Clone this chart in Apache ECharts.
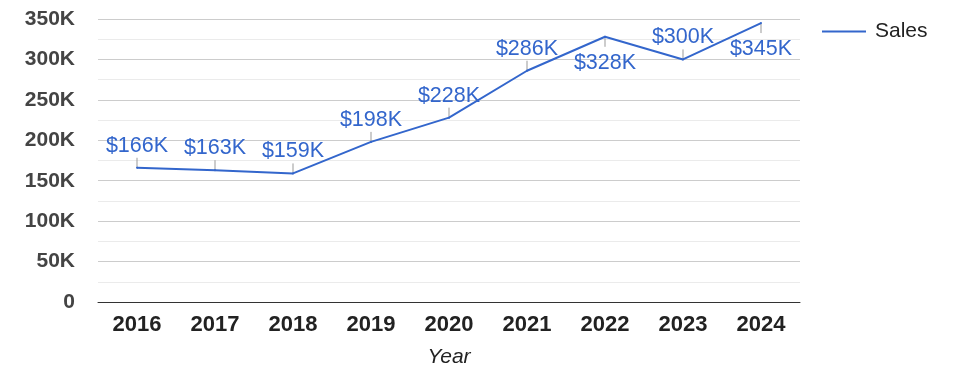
<!DOCTYPE html>
<html>
<head>
<meta charset="utf-8">
<script src="https://cdn.jsdelivr.net/npm/echarts@6/dist/echarts.min.js"></script>
<style>html,body{margin:0;padding:0;background:#fff}#c{width:975px;height:378px}</style>
</head>
<body>
<div id="c"></div>
<script>
const years = ['2016','2017','2018','2019','2020','2021','2022','2023','2024'];
const sales = [166000,163000,159000,198000,228000,286000,328000,300000,345000];
const belowYears = ['2022','2024'];

const fmtK = v => (v === 0 ? '0' : (v / 1000) + 'K');
const chart = echarts.init(document.getElementById('c'));
const FONT = 'Arial, "Liberation Sans", sans-serif';

chart.setOption({
  animation: false,
  textStyle: { fontFamily: FONT },
  grid: { left: 98, right: 175, top: 19, bottom: 76 },
  legend: {
    data: [{ name: 'Sales', icon: 'rect' }],
    left: 822, top: 21, padding: 0,
    itemWidth: 44, itemHeight: 2,
    textStyle: { fontSize: 21, color: '#222', fontFamily: FONT, padding: [0,0,0,4] }
  },
  xAxis: {
    type: 'category',
    data: years,
    boundaryGap: true,
    name: 'Year',
    nameLocation: 'middle',
    nameGap: 45,
    nameTextStyle: { fontSize: 21, fontStyle: 'italic', color: '#222', fontFamily: FONT },
    axisLine: { lineStyle: { color: '#333', width: 1 } },
    axisTick: { show: false },
    axisLabel: { fontSize: 22, fontWeight: 'bold', color: '#222', margin: 12, fontFamily: FONT }
  },
  yAxis: {
    type: 'value',
    min: 0, max: 350000, interval: 50000,
    axisLine: { show: false },
    axisTick: { show: false },
    axisLabel: { fontSize: 21, fontWeight: 'bold', color: '#444', margin: 23, formatter: fmtK, fontFamily: FONT },
    splitLine: { lineStyle: { color: '#cccccc', width: 1 } },
    minorTick: { show: false, splitNumber: 2 },
    minorSplitLine: { show: true, lineStyle: { color: '#ebebeb', width: 1 } }
  },
  series: [
    {
      name: 'Sales',
      type: 'line',
      data: sales.map((v, i) => {
        const below = belowYears.includes(years[i]);
        return { value: v, label: { position: below ? 'bottom' : 'top', distance: below ? 14 : 10 } };
      }),
      symbol: 'circle',
      symbolSize: 2,
      showSymbol: true,
      lineStyle: { color: '#3366CC', width: 2 },
      itemStyle: { color: '#3366CC' },
      label: {
        show: true,
        fontSize: 21.5,
        color: '#3366CC',
        fontFamily: FONT,
        formatter: p => '$' + (p.value / 1000) + 'K'
      },
      z: 3
    },
    {
      name: 'ticks',
      type: 'custom',
      data: sales.map((v, i) => [i, v, belowYears.includes(years[i]) ? 1 : -1]),
      renderItem: (params, api) => {
        const p = api.coord([api.value(0), api.value(1)]);
        const dir = api.value(2);
        return {
          type: 'line',
          shape: { x1: p[0], y1: p[1], x2: p[0], y2: p[1] + dir * 10 },
          style: { stroke: '#999', lineWidth: 1 }
        };
      },
      silent: true,
      z: 2
    }
  ]
});
</script>
</body>
</html>
